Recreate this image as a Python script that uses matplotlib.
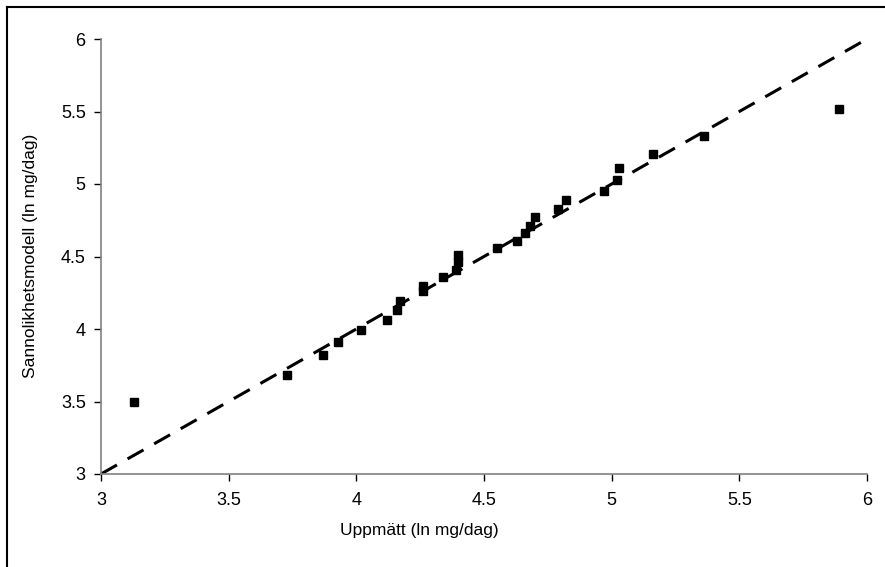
import numpy as np
import matplotlib.pyplot as plt
from matplotlib.lines import Line2D

plt.rcParams['font.family'] = ['Liberation Sans', 'DejaVu Sans']

# measured vs model (ln mg/dag)
uppmatt = [3.13, 3.73, 3.87, 3.93, 4.02, 4.12, 4.16, 4.17, 4.26, 4.26,
           4.34, 4.39, 4.40, 4.40, 4.55, 4.63, 4.66, 4.68, 4.70, 4.79,
           4.82, 4.97, 5.02, 5.03, 5.16, 5.36, 5.89]
modell = [3.50, 3.68, 3.82, 3.91, 3.99, 4.06, 4.13, 4.19, 4.26, 4.30,
          4.36, 4.41, 4.46, 4.51, 4.56, 4.61, 4.66, 4.71, 4.77, 4.83,
          4.89, 4.95, 5.03, 5.11, 5.21, 5.33, 5.52]
ref_line = [3, 6]
ticks = [3, 3.5, 4, 4.5, 5, 5.5, 6]
tick_labels = ['3', '3.5', '4', '4.5', '5', '5.5', '6']

W, H = 885, 567
fig = plt.figure(figsize=(W/100, H/100), dpi=100)
ax = fig.add_axes([101/W, 1-474/H, (867-101)/W, (474-39)/H])

ax.plot(ref_line, ref_line, color='black', lw=2.2, dashes=(6, 4), zorder=2)
ax.plot(uppmatt, modell, 's', color='black', ms=6, zorder=3, clip_on=False)

ax.set_xlim(3, 6)
ax.set_ylim(3, 6)
ax.set_xticks(ticks)
ax.set_xticklabels(tick_labels)
ax.set_yticks(ticks)
ax.set_yticklabels(tick_labels)

for s in ['top', 'right']:
    ax.spines[s].set_visible(False)
for s in ['left', 'bottom']:
    ax.spines[s].set_color('#808080')
    ax.spines[s].set_linewidth(1.2)
ax.tick_params(direction='out', length=5, width=1, color='black',
               labelsize=13)
ax.tick_params(axis='x', pad=8)
ax.tick_params(axis='y', pad=6)

fig.text(419/W, 1-531/H, 'Uppmätt (ln mg/dag)', ha='center', va='center',
         fontsize=12.5)
fig.text(31/W, 1-256/H, 'Sannolikhetsmodell (ln mg/dag)', ha='center',
         va='center', rotation=90, fontsize=12.5)

# outer frame (only left and top visible)
fig.add_artist(Line2D([7/W, 7/W], [0, 1-7/H], color='black', lw=1.5,
                      transform=fig.transFigure))
fig.add_artist(Line2D([7/W, 1], [1-7/H, 1-7/H], color='black', lw=1.5,
                      transform=fig.transFigure))

fig.savefig('out.png', dpi=100)
